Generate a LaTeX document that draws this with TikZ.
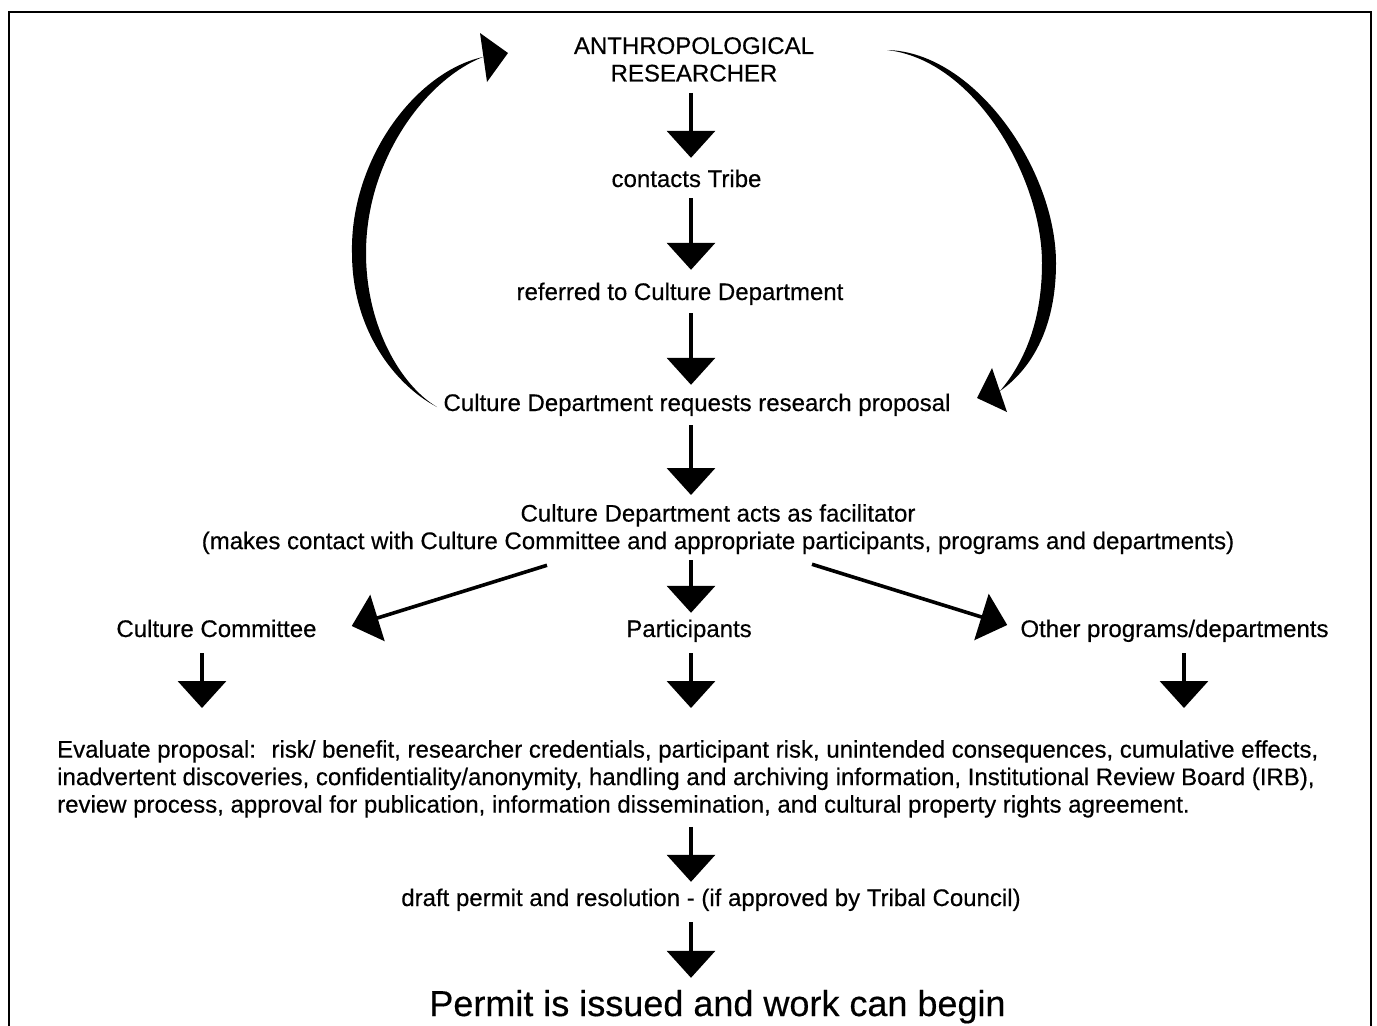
\documentclass[tikz,border=0pt]{standalone}
\usepackage{fontspec}
\setmainfont[FakeBold=0.4]{Liberation Sans}
\usetikzlibrary{arrows.meta,calc}
\begin{document}
\begin{tikzpicture}[x=1pt,y=-1pt,
  txt/.style={inner sep=0pt, font=\fontsize{24}{27.5}\selectfont, text height=17.5pt, text depth=5.5pt, anchor=base},
  mtxt/.style={inner sep=0pt, font=\fontsize{24}{27.5}\selectfont, align=center, anchor=north},
  arr/.style={line width=3.6pt, -{Triangle[width=48pt,length=27pt]}},
  frame/.style={line width=2pt},
  ]
\useasboundingbox (0,0) rectangle (1377,1026);
\draw[frame] (9,1026) -- (9,12) -- (1371,12) -- (1371,1026);
\coordinate (ax) at (691,0);

\node[mtxt] (res) at (694,37) {ANTHROPOLOGICAL\\RESEARCHER};
\node[txt] (tribe) at (686.5,187) {contacts Tribe};
\node[txt] (ref) at (680,300) {referred to Culture Department};
\node[txt] (req) at (697,411) {Culture Department requests research proposal};
\node[mtxt] (fac) at (718,504) {Culture Department acts as facilitator\\(makes contact with Culture Committee and appropriate participants, programs and departments)};
\node[txt] (cc) at (216.5,637) {Culture Committee};
\node[txt] (part) at (689,637) {Participants};
\node[txt] (other) at (1174.5,637) {Other programs/departments};
\node[inner sep=0pt, font=\fontsize{24}{27.5}\selectfont, align=left, anchor=north west] (ev) at (57,740)
 {Evaluate proposal:~ risk/ benefit, researcher credentials, participant risk, unintended consequences, cumulative effects,\\
  inadvertent discoveries, confidentiality/anonymity, handling and archiving information, Institutional Review Board (IRB),\\
  review process, approval for publication, information dissemination, and cultural property rights agreement.};
\node[txt] (draft) at (711,906) {draft permit and resolution - (if approved by Tribal Council)};
\node[inner sep=0pt, font=\fontsize{36}{40}\selectfont, text height=26.5pt, text depth=7pt, anchor=base] (permit) at (717.5,1016) {Permit is issued and work can begin};

\coordinate (ccx) at ($(cc.south)+(-14.5,0)$);
\coordinate (otx) at ($(other.south)+(9.5,0)$);
\coordinate (lstart) at ($(fac.south)+(-171,11)$);
\coordinate (rstart) at ($(fac.south)+(94,10)$);

% vertical arrows
\draw[arr, shorten <=11pt, shorten >=11.5pt] (res.south -| ax) -- (tribe.north -| ax);
\draw[arr, shorten <=5.5pt, shorten >=12.5pt] (tribe.south -| ax) -- (ref.north -| ax);
\draw[arr, shorten <=7.5pt, shorten >=8.5pt] (ref.south -| ax) -- (req.north -| ax);
\draw[arr, shorten <=8.5pt, shorten >=9pt] (req.south -| ax) -- (fac.north -| ax);
\draw[arr, shorten <=6pt, shorten >=6.5pt] (fac.south -| ax) -- (part.north -| ax);
\draw[arr] (lstart) -- ($(cc.east)+(35,-5)$);
\draw[arr] (rstart) -- ($(other.west)+(-13,-6)$);
\draw[arr, shorten <=10.5pt, shorten >=32pt] (ccx) -- (ccx |- ev.north);
\draw[arr, shorten <=10.5pt, shorten >=32pt] (part.south -| ax) -- (ev.north -| ax);
\draw[arr, shorten <=10.5pt, shorten >=32pt] (otx) -- (otx |- ev.north);
\draw[arr, shorten <=9pt, shorten >=6.5pt] (ev.south -| ax) -- (draft.north -| ax);
\draw[arr, shorten <=10.5pt, shorten >=11.5pt] (draft.south -| ax) -- (permit.north -| ax);

% curved feedback arrows
\fill (437,407) .. controls (395,385) and (352,330) .. (352,253)
  .. controls (350,160) and (415,72) .. (483,57)
  .. controls (425,80) and (366,160) .. (366,253)
  .. controls (366,325) and (400,385) .. (437,407) -- cycle;
\fill (480,33) -- (508,53) -- (487,82) -- cycle;
\fill (887,50) .. controls (975,52) and (1056,170) .. (1056,263)
  .. controls (1056,330) and (1030,370) .. (1000,391)
  .. controls (1022,365) and (1042,325) .. (1042,263)
  .. controls (1042,178) and (975,60) .. (887,50) -- cycle;
\fill (992,368) -- (977,398) -- (1007,412) -- cycle;
\end{tikzpicture}
\end{document}
